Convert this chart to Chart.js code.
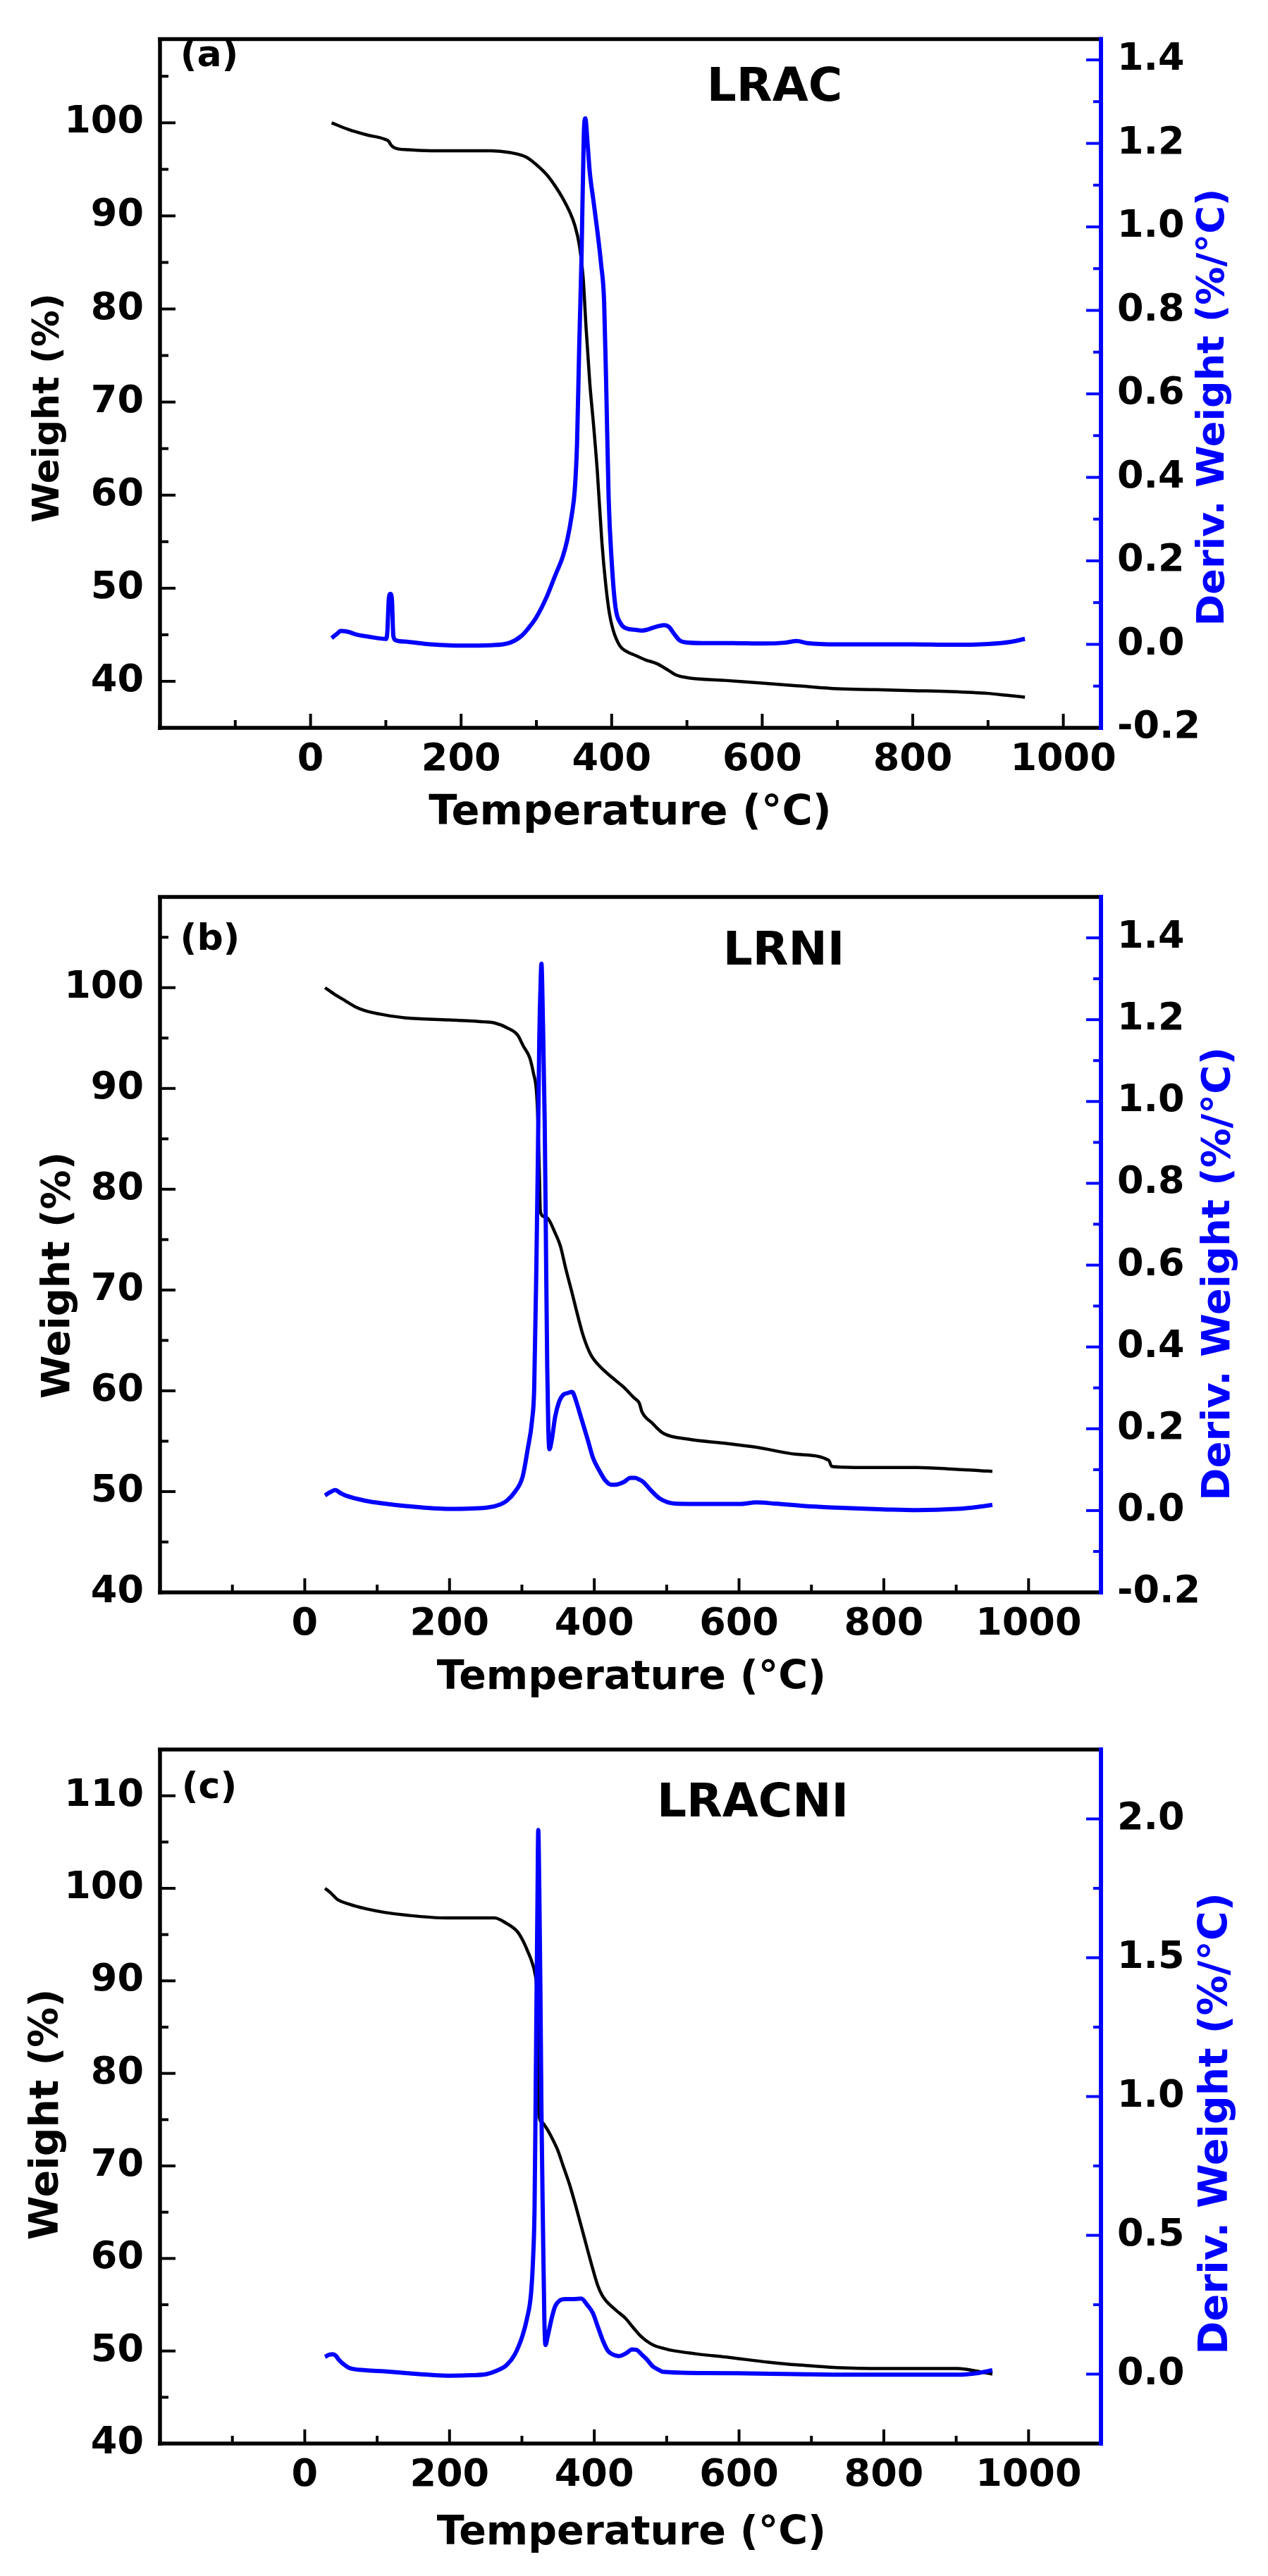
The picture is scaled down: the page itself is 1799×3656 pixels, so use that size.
<!DOCTYPE html>
<html>
<head>
<meta charset="utf-8">
<title>TGA / DTG</title>
<script src="https://cdn.jsdelivr.net/npm/chart.js@4.4.1/dist/chart.umd.min.js"></script>
<style>
  html, body { margin: 0; padding: 0; background: #fff; }
  body { width: 1799px; height: 3656px; position: relative; overflow: hidden; }
  canvas { position: absolute; left: 0; }
</style>
</head>
<body>
<canvas id="chartA" width="1799" height="1200" style="top:0px"></canvas>
<canvas id="chartB" width="1799" height="1240" style="top:1200px"></canvas>
<canvas id="chartC" width="1799" height="1256" style="top:2400px"></canvas>
<script>
const INK = '#000000';
const BLUE = '#0000ff';

// [temperature °C, value] pairs
const lracWeight = [
  [28, 100], [50, 99.3], [75, 98.7], [100, 98.2], [104, 98.0], [107, 97.6], [112, 97.3],
  [130, 97.1], [160, 97.0], [200, 97.0], [240, 97.0], [265, 96.8], [287, 96.3], [300, 95.5],
  [314, 94.4], [325, 93.2], [335, 91.9], [345, 90.3], [351, 89.0], [357, 86.9], [362, 83.5],
  [366, 78.0], [371, 72.0], [376, 67.5], [381, 62.5], [387, 55.0], [392, 50.5], [397, 47.3],
  [402, 45.5], [411, 43.8], [420, 43.2], [431, 42.8], [445, 42.3], [460, 41.9], [475, 41.2],
  [485, 40.7], [500, 40.4], [550, 40.1], [600, 39.8], [650, 39.5], [700, 39.2], [750, 39.1],
  [800, 39.0], [850, 38.9], [900, 38.7], [925, 38.5], [949, 38.3],
];
const lracDeriv = [
  [28, 0.015], [35, 0.025], [40, 0.032], [50, 0.03], [60, 0.024], [75, 0.019], [100, 0.013],
  [102, 0.03], [104, 0.11], [106, 0.121], [108, 0.11], [110, 0.02], [113, 0.01], [130, 0.006],
  [160, 0.0], [200, -0.003], [240, -0.002], [265, 0.004], [280, 0.02], [290, 0.04], [300, 0.065],
  [314, 0.115], [325, 0.165], [335, 0.21], [341, 0.25], [347, 0.31], [351, 0.37], [354, 0.48],
  [357, 0.72], [360, 0.93], [363, 1.22], [365, 1.26], [368, 1.2], [371, 1.13], [376, 1.06],
  [381, 0.99], [386, 0.91], [390, 0.82], [393, 0.6], [396, 0.35], [400, 0.2], [405, 0.09],
  [412, 0.05], [420, 0.038], [431, 0.035], [440, 0.033], [447, 0.035], [455, 0.04], [463, 0.044],
  [470, 0.046], [476, 0.042], [483, 0.025], [490, 0.01], [497, 0.005], [520, 0.003], [560, 0.003],
  [600, 0.002], [630, 0.004], [646, 0.008], [660, 0.003], [700, 0.0], [750, 0.0], [800, 0.0],
  [850, -0.001], [900, 0.001], [930, 0.006], [949, 0.013],
];

const lrniWeight = [
  [28, 100], [40, 99.4], [56, 98.7], [70, 98.1], [84, 97.7], [110, 97.3], [140, 97.0], [200, 96.8],
  [250, 96.6], [262, 96.5], [280, 96.0], [294, 95.3], [302, 94.2], [311, 93.0], [316, 91.5],
  [320, 89.8], [322, 87.0], [324, 82.0], [325.5, 77.8], [330, 77.3], [337, 77.0], [345, 75.8],
  [353, 74.4], [361, 72.0], [369, 69.8], [377, 67.5], [385, 65.4], [395, 63.6], [408, 62.4],
  [425, 61.3], [440, 60.4], [455, 59.3], [462, 58.8], [466, 57.9], [480, 56.8], [495, 55.8],
  [530, 55.2], [580, 54.8], [624, 54.4], [680, 53.7], [724, 53.1], [728, 52.5], [760, 52.4],
  [800, 52.4], [846, 52.4], [902, 52.2], [930, 52.1], [950, 52.0],
];
const lrniDeriv = [
  [28, 0.037], [35, 0.045], [42, 0.05], [50, 0.042], [56, 0.037], [84, 0.024], [110, 0.017],
  [140, 0.011], [200, 0.004], [251, 0.007], [270, 0.015], [279, 0.024], [290, 0.045], [301, 0.083],
  [308, 0.15], [314, 0.22], [317, 0.3], [320, 0.6], [322, 0.85], [324, 1.15], [326, 1.3],
  [327, 1.337], [329, 1.2], [331.5, 0.95], [333.5, 0.6], [335, 0.35], [336.5, 0.2], [338, 0.15],
  [341, 0.17], [346, 0.23], [351.6, 0.267], [357, 0.283], [362.8, 0.287], [369, 0.29], [371, 0.287],
  [375, 0.267], [383, 0.22], [390.7, 0.175], [398, 0.13], [407.5, 0.096], [416, 0.072], [424, 0.063],
  [432, 0.064], [441, 0.07], [450, 0.08], [456.5, 0.08], [462, 0.076], [467.7, 0.07], [478, 0.05],
  [490, 0.03], [512, 0.017], [560, 0.016], [600, 0.016], [624, 0.02], [650, 0.017], [700, 0.01],
  [735, 0.007], [800, 0.003], [846, 0.001], [900, 0.004], [930, 0.009], [950, 0.014],
];

const lracniWeight = [
  [28, 100], [36, 99.5], [45, 98.8], [61, 98.3], [84, 97.8], [110, 97.4], [140, 97.1],
  [195, 96.8], [251, 96.8], [262, 96.8], [279, 96.2], [294, 95.3], [301, 94.4], [308, 93.2],
  [314, 92.0], [318, 90.8], [320.4, 89.1], [322, 84.0], [323.6, 75.5], [328, 74.7], [333, 74.2],
  [341, 73.1], [349.5, 71.7], [357, 70.0], [365.8, 68.0], [375, 65.5], [385, 62.6], [395, 59.7],
  [404.7, 57.1], [411, 56.0], [417.6, 55.3], [430, 54.4], [443.6, 53.5], [453, 52.6], [463, 51.7],
  [472, 51.1], [482.5, 50.6], [495, 50.3], [505, 50.1], [540, 49.7], [586, 49.3], [640, 48.8],
  [680, 48.5], [700, 48.4], [735, 48.2], [800, 48.1], [850, 48.1], [902, 48.1], [930, 47.8],
  [950, 47.5],
];
const lracniDeriv = [
  [28, 0.062], [34, 0.07], [39, 0.072], [43, 0.066], [47, 0.052], [54, 0.035], [61, 0.023],
  [84, 0.014], [110, 0.01], [139.5, 0.004], [170, -0.002], [201, -0.006], [230, -0.004], [251, 0],
  [265, 0.012], [279, 0.033], [290, 0.07], [301, 0.14], [307, 0.2], [312.6, 0.29], [315.5, 0.42],
  [317.5, 0.6], [319, 1.0], [320, 1.3], [321.5, 1.7], [322.6, 1.96], [324, 1.75], [325.5, 1.4],
  [327, 0.95], [329, 0.55], [331, 0.2], [332.5, 0.105], [336, 0.14], [341, 0.2], [346, 0.245],
  [352, 0.265], [360, 0.27], [370, 0.27], [382, 0.272], [390, 0.25], [398, 0.22], [405, 0.17],
  [412, 0.12], [418.6, 0.085], [424, 0.073], [434, 0.065], [444, 0.075], [452, 0.089], [458, 0.088],
  [465, 0.072], [472.7, 0.053], [480, 0.03], [488.7, 0.016], [495, 0.008], [550, 0.004], [600, 0.003],
  [679, 0], [750, -0.002], [800, -0.002], [850, -0.002], [902, -0.002], [930, 0.004], [950, 0.014],
];

// tick labels
const tempTicks = [0, 200, 400, 600, 800, 1000];
const weightTicksAB = [40, 50, 60, 70, 80, 90, 100];
const weightTicksC = [40, 50, 60, 70, 80, 90, 100, 110];
const derivTicksAB = [-0.2, 0.0, 0.2, 0.4, 0.6, 0.8, 1.0, 1.2, 1.4];
const derivTicksC = [0.0, 0.5, 1.0, 1.5, 2.0];

const steps = (from, to, step) => {
  const out = [];
  for (let v = from; v <= to + 1e-9; v += step) out.push(+v.toFixed(3));
  return out;
};

Chart.defaults.font.family = "'DejaVu Sans', sans-serif";
Chart.defaults.font.size = 54;
Chart.defaults.font.weight = 'bold';
Chart.defaults.color = INK;

// inward tick marks, frame and in-plot labels
const frame = {
  id: 'frame',
  afterDatasetsDraw(chart, _args, o) {
    const { ctx, chartArea: a, scales } = chart;
    const seg = (x1, y1, x2, y2, color, w) => {
      ctx.strokeStyle = color;
      ctx.lineWidth = w;
      ctx.beginPath();
      ctx.moveTo(x1, y1);
      ctx.lineTo(x2, y2);
      ctx.stroke();
    };
    ctx.save();
    o.xMajor.forEach((v) => { const p = scales.x.getPixelForValue(v); seg(p, a.bottom, p, a.bottom - 20, INK, 4); });
    o.xMinor.forEach((v) => { const p = scales.x.getPixelForValue(v); seg(p, a.bottom, p, a.bottom - 11, INK, 4); });
    o.yMajor.forEach((v) => { const p = scales.y.getPixelForValue(v); seg(a.left, p, a.left + 22, p, INK, 4); });
    o.yMinor.forEach((v) => { const p = scales.y.getPixelForValue(v); seg(a.left, p, a.left + 12, p, INK, 4); });
    o.y1Major.forEach((v) => { const p = scales.y1.getPixelForValue(v); seg(a.right, p, a.right - 21, p, BLUE, 4); });
    o.y1Minor.forEach((v) => { const p = scales.y1.getPixelForValue(v); seg(a.right, p, a.right - 11, p, BLUE, 4); });
    seg(a.left - 3, a.top, a.right, a.top, INK, 5.5);
    seg(a.left, a.top, a.left, a.bottom + 3, INK, 5.5);
    seg(a.left - 3, a.bottom, a.right, a.bottom, INK, 5.5);
    seg(a.right, a.top - 3, a.right, a.bottom + 3, BLUE, 6);
    ctx.restore();
  },
  afterDraw(chart, _args, o) {
    const { ctx } = chart;
    ctx.save();
    ctx.textAlign = 'center';
    ctx.textBaseline = 'middle';
    o.texts.forEach((t) => {
      ctx.font = `bold ${t.size}px 'DejaVu Sans', sans-serif`;
      ctx.fillStyle = t.color || INK;
      ctx.save();
      ctx.translate(t.x, t.y);
      if (t.rotate) ctx.rotate(-Math.PI / 2);
      ctx.fillText(t.text, 0, 0);
      ctx.restore();
    });
    ctx.restore();
  },
};

function drawPanel(id, p) {
  const toXY = (pairs) => pairs.map(([x, y]) => ({ x, y }));
  new Chart(document.getElementById(id), {
    type: 'line',
    data: {
      datasets: [
        {
          label: 'Deriv. Weight',
          data: toXY(p.deriv),
          yAxisID: 'y1',
          borderColor: BLUE,
          borderWidth: 6,
          pointRadius: 0,
          cubicInterpolationMode: 'monotone',
          order: 0,
        },
        {
          label: 'Weight',
          data: toXY(p.weight),
          yAxisID: 'y',
          borderColor: INK,
          borderWidth: 4.5,
          pointRadius: 0,
          cubicInterpolationMode: 'monotone',
          order: 1,
        },
      ],
    },
    options: {
      responsive: false,
      animation: false,
      events: [],
      layout: { padding: { top: p.top, left: 0, right: 0, bottom: 0 } },
      plugins: {
        legend: { display: false },
        tooltip: { enabled: false },
        frame: p.frame,
      },
      scales: {
        x: {
          type: 'linear',
          min: -200,
          max: p.xMax,
          grid: { display: false, drawTicks: false },
          border: { display: false },
          ticks: { padding: 14, maxRotation: 0, callback: (v) => String(v) },
          afterBuildTicks: (s) => { s.ticks = tempTicks.map((v) => ({ value: v })); },
          afterFit: (s) => { s.height = p.xAxisH; },
        },
        y: {
          position: 'left',
          min: p.yMin,
          max: p.yMax,
          grid: { display: false, drawTicks: false },
          border: { display: false },
          ticks: { padding: 23, callback: (v) => String(v) },
          afterBuildTicks: (s) => { s.ticks = p.yTicks.map((v) => ({ value: v })); },
          afterFit: (s) => { s.width = 227; },
        },
        y1: {
          position: 'right',
          min: p.y1Min,
          max: p.y1Max,
          grid: { display: false, drawTicks: false },
          border: { display: false },
          ticks: { padding: 23, callback: (v) => Number(v).toFixed(1) },
          afterBuildTicks: (s) => { s.ticks = p.y1Ticks.map((v) => ({ value: v })); },
          afterFit: (s) => { s.width = 237; },
        },
      },
    },
    plugins: [frame],
  });
}

drawPanel('chartA', {
  weight: lracWeight,
  deriv: lracDeriv,
  top: 40,
  xAxisH: 167,
  xMax: 1050,
  yMin: 35, yMax: 109, yTicks: weightTicksAB,
  y1Min: -0.2, y1Max: 1.45, y1Ticks: derivTicksAB,
  frame: {
    xMajor: steps(-200, 1000, 200), xMinor: steps(-100, 1000, 200),
    yMajor: weightTicksAB, yMinor: steps(45, 105, 10),
    y1Major: derivTicksAB, y1Minor: steps(-0.1, 1.4, 0.2),
    texts: [
      { text: '(a)', x: 297, y: 80, size: 52 },
      { text: 'LRAC', x: 1099, y: 126, size: 66 },
      { text: 'Weight (%)', x: 69, y: 579, size: 52, rotate: true },
      { text: 'Deriv. Weight (%/°C)', x: 1722, y: 578, size: 54, rotate: true, color: BLUE },
      { text: 'Temperature (°C)', x: 894, y: 1155, size: 59 },
    ],
  },
});

drawPanel('chartB', {
  weight: lrniWeight,
  deriv: lrniDeriv,
  top: 73,
  xAxisH: 180,
  xMax: 1100,
  yMin: 40, yMax: 109, yTicks: weightTicksAB,
  y1Min: -0.2, y1Max: 1.5, y1Ticks: derivTicksAB,
  frame: {
    xMajor: steps(-200, 1000, 200), xMinor: steps(-100, 1100, 200),
    yMajor: weightTicksAB, yMinor: steps(45, 105, 10),
    y1Major: derivTicksAB, y1Minor: steps(-0.1, 1.5, 0.2),
    texts: [
      { text: '(b)', x: 298, y: 134, size: 52 },
      { text: 'LRNI', x: 1112, y: 152, size: 66 },
      { text: 'Weight (%)', x: 83, y: 610, size: 56, rotate: true },
      { text: 'Deriv. Weight (%/°C)', x: 1729, y: 608, size: 56, rotate: true, color: BLUE },
      { text: 'Temperature (°C)', x: 896, y: 1182, size: 57 },
    ],
  },
});

drawPanel('chartC', {
  weight: lracniWeight,
  deriv: lracniDeriv,
  top: 83,
  xAxisH: 188,
  xMax: 1100,
  yMin: 40, yMax: 115, yTicks: weightTicksC,
  y1Min: -0.25, y1Max: 2.25, y1Ticks: derivTicksC,
  frame: {
    xMajor: steps(-200, 1000, 200), xMinor: steps(-100, 1100, 200),
    yMajor: weightTicksC, yMinor: steps(45, 105, 10),
    y1Major: derivTicksC, y1Minor: steps(0.25, 2.0, 0.5),
    texts: [
      { text: '(c)', x: 297, y: 138, size: 52 },
      { text: 'LRACNI', x: 1068, y: 161, size: 66 },
      { text: 'Weight (%)', x: 67, y: 601, size: 57, rotate: true },
      { text: 'Deriv. Weight (%/°C)', x: 1726, y: 614, size: 57, rotate: true, color: BLUE },
      { text: 'Temperature (°C)', x: 896, y: 1196, size: 57 },
    ],
  },
});
</script>
</body>
</html>
